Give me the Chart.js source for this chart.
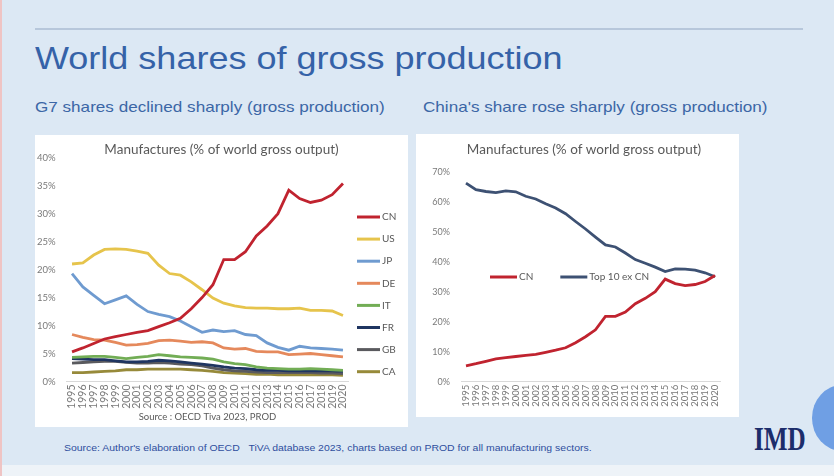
<!DOCTYPE html>
<html>
<head>
<meta charset="utf-8">
<script src="https://cdn.jsdelivr.net/npm/chart.js@4.4.1/dist/chart.umd.min.js"></script>
<style>
  body { margin: 0; width: 834px; height: 476px; overflow: hidden; position: relative;
         background: #dce8f4; font-family: "Liberation Sans", Arial, sans-serif; }
  .abs { position: absolute; }
  #rule { left: 35px; top: 28px; width: 768px; height: 2px; background: #b7c7db; }
  .wide { transform-origin: left top; white-space: nowrap; }
  #title { left: 35px; top: 38px; font-size: 32px; line-height: 40px; color: #3562a8; transform: scaleX(1.125); }
  .sub { top: 98px; font-size: 15px; line-height: 18px; color: #3b66a6; transform: scaleX(1.14); }
  .box { background: #fff; }
  #note { left: 64px; top: 442px; font-size: 9.5px; line-height: 12px; color: #2e4e9e; transform: scaleX(1.1); }
  #logo { left: 754px; top: 421px; font-family: "Liberation Serif", serif; font-weight: bold; font-size: 34px;
          line-height: 36px; color: #1c2d6b; transform: scaleX(0.74); transform-origin: left top; }
  #dot { left: 812px; top: 385px; width: 60px; height: 66px; border-radius: 50%; background: #6f9fe4; }
  #foot { left: 0; top: 465px; width: 834px; height: 11px; background: #eef3f8; }
  #edge { left: 0; top: 0; width: 2px; height: 476px; background: #efc4c4; }
</style>
</head>
<body>
<div class="abs" id="rule"></div>
<div class="abs wide" id="title">World shares of gross production</div>
<div class="abs wide sub" style="left:35px">G7 shares declined sharply (gross production)</div>
<div class="abs wide sub" style="left:423px">China's share rose sharply (gross production)</div>

<div class="abs box" style="left:35px;top:135px;width:373px;height:292px"><canvas id="g7"></canvas></div>
<div class="abs box" style="left:416px;top:134px;width:323px;height:283px"><canvas id="china"></canvas></div>

<div class="abs wide" id="note">Source: Author's elaboration of OECD &nbsp;&nbsp;TiVA database 2023, charts based on PROD for all manufacturing sectors.</div>
<div class="abs" id="logo">IMD</div>
<div class="abs" id="dot"></div>
<div class="abs" id="foot"></div>
<div class="abs" id="edge"></div>

<script>
// years on the x axis
const years = ['1995','1996','1997','1998','1999','2000','2001','2002','2003','2004','2005','2006','2007',
               '2008','2009','2010','2011','2012','2013','2014','2015','2016','2017','2018','2019','2020'];

// % of world gross output, manufactures
const cnShare = [5.3, 6.0, 6.8, 7.6, 8.0, 8.4, 8.8, 9.1, 9.8, 10.5, 11.3, 13.0, 15.0, 17.3, 21.8, 21.8, 23.2, 26.0, 27.8, 30.0, 34.2, 32.7, 32.0, 32.4, 33.4, 35.4];
const usShare = [21.0, 21.2, 22.6, 23.6, 23.7, 23.6, 23.3, 22.9, 20.8, 19.3, 19.0, 17.8, 16.4, 14.9, 14.0, 13.5, 13.2, 13.1, 13.1, 13.0, 13.0, 13.1, 12.7, 12.7, 12.6, 11.8];
const jpShare = [19.3, 16.9, 15.4, 13.9, 14.6, 15.3, 13.8, 12.5, 12.0, 11.6, 10.8, 9.8, 8.8, 9.2, 8.9, 9.1, 8.4, 8.2, 6.9, 6.1, 5.6, 6.3, 6.0, 5.9, 5.8, 5.6];
const deShare = [8.4, 7.9, 7.5, 7.4, 7.0, 6.5, 6.6, 6.8, 7.3, 7.4, 7.2, 7.0, 7.1, 6.9, 6.0, 5.8, 5.9, 5.4, 5.3, 5.3, 4.8, 4.9, 5.0, 4.8, 4.6, 4.4];
const itShare = [4.3, 4.4, 4.5, 4.5, 4.3, 4.1, 4.3, 4.5, 4.8, 4.6, 4.4, 4.3, 4.2, 4.0, 3.5, 3.2, 3.0, 2.6, 2.4, 2.3, 2.2, 2.2, 2.3, 2.2, 2.1, 2.0];
const frShare = [4.1, 4.0, 3.9, 3.9, 3.7, 3.5, 3.5, 3.6, 3.8, 3.7, 3.5, 3.3, 3.1, 2.9, 2.6, 2.4, 2.3, 2.1, 2.0, 2.0, 1.9, 1.9, 1.9, 1.9, 1.9, 1.8];
const gbShare = [3.3, 3.4, 3.5, 3.6, 3.6, 3.4, 3.3, 3.3, 3.4, 3.3, 3.1, 3.0, 2.8, 2.4, 2.1, 1.9, 1.8, 1.7, 1.6, 1.6, 1.6, 1.6, 1.6, 1.5, 1.5, 1.4];
const caShare = [1.6, 1.6, 1.7, 1.8, 1.9, 2.1, 2.1, 2.2, 2.2, 2.2, 2.2, 2.1, 2.0, 1.8, 1.6, 1.5, 1.4, 1.3, 1.3, 1.2, 1.2, 1.2, 1.2, 1.2, 1.2, 1.1];
const top10ExCnShare = [66.2, 64.0, 63.4, 63.0, 63.6, 63.3, 61.8, 60.9, 59.3, 57.9, 56.0, 53.4, 50.9, 48.2, 45.6, 44.9, 42.9, 40.7, 39.5, 38.2, 36.7, 37.6, 37.5, 37.2, 36.3, 35.0];

const chartFont = 'Lato, "Liberation Sans", sans-serif';

// legend with short line samples, drawn where the excel one sits
const lineLegend = {
  id: 'lineLegend',
  afterDraw(chart, args, opts) {
    const ctx = chart.ctx;
    ctx.save();
    ctx.font = opts.fontSize + 'px ' + chartFont;
    ctx.textBaseline = 'middle';
    let x = opts.x, y = opts.y;
    chart.data.datasets.forEach(function (ds) {
      ctx.strokeStyle = ds.borderColor;
      ctx.lineWidth = 3;
      ctx.beginPath();
      ctx.moveTo(x, y);
      ctx.lineTo(x + opts.lineLen, y);
      ctx.stroke();
      ctx.fillStyle = '#595959';
      ctx.fillText(ds.label, x + opts.lineLen + 2, y);
      if (opts.vertical) y += opts.step;
      else x += opts.lineLen + 2 + ctx.measureText(ds.label).width + opts.gap;
    });
    ctx.restore();
  }
};

function serie(label, data, color) {
  return { label: label, data: data, borderColor: color, backgroundColor: color,
           borderWidth: 2.8, pointRadius: 0, tension: 0, fill: false };
}

// yWidth/rightGap keep the plot where the excel plot area is,
// without squeezing the full-width title
function axes(max, step, yWidth, rightGap, xHeight, yFont, xFont) {
  return {
    x: {
      offset: true,
      grid: { display: false, drawTicks: false },
      border: { display: true, color: '#d9d9d9', width: 1 },
      ticks: { autoSkip: false, minRotation: 90, maxRotation: 90, padding: 3,
               color: '#7a7a7a', font: { family: chartFont, size: xFont } },
      afterFit: function (s) { s.height = xHeight; }
    },
    y: {
      min: 0, max: max,
      grid: { display: false, drawTicks: false },
      border: { display: false },
      ticks: { stepSize: step, padding: 11, color: '#7a7a7a', font: { family: chartFont, size: yFont },
               callback: function (v) { return v + '%'; } },
      afterFit: function (s) { s.width = yWidth; }
    },
    gap: {
      type: 'linear', position: 'right', display: true,
      grid: { display: false, drawTicks: false },
      border: { display: false },
      ticks: { display: false },
      afterFit: function (s) { s.width = rightGap; }
    }
  };
}

new Chart(document.getElementById('g7'), {
  type: 'line',
  data: {
    labels: years,
    datasets: [
      serie('CN', cnShare, '#c0232f'),
      serie('US', usShare, '#e6c44c'),
      serie('JP', jpShare, '#6f9bd0'),
      serie('DE', deShare, '#e5895c'),
      serie('IT', itShare, '#72ad55'),
      serie('FR', frShare, '#1f3561'),
      serie('GB', gbShare, '#5a5a5e'),
      serie('CA', caShare, '#978a3a')
    ]
  },
  options: {
    responsive: true, maintainAspectRatio: false, animation: false,
    layout: { padding: 0 },
    scales: axes(40, 5, 31.6, 59.6, 30, 9.5, 10.5),
    plugins: {
      legend: { display: false },
      tooltip: { enabled: false },
      title: { display: true, text: 'Manufactures (% of world gross output)', color: '#595959',
               font: { family: chartFont, size: 13.5, weight: 'normal' }, padding: { top: 6.5, bottom: 0 } },
      subtitle: { display: true, position: 'bottom', fullSize: false, text: 'Source : OECD Tiva 2023, PROD',
                  color: '#595959', font: { family: chartFont, size: 9.5 }, padding: { top: 0, bottom: 4.1 } },
      lineLegend: { x: 322, y: 82, step: 22.1, vertical: true, lineLen: 23, fontSize: 10 }
    }
  },
  plugins: [lineLegend]
});

new Chart(document.getElementById('china'), {
  type: 'line',
  data: {
    labels: years,
    datasets: [
      serie('CN', cnShare, '#c0232f'),
      serie('Top 10 ex CN', top10ExCnShare, '#3d5173')
    ]
  },
  options: {
    responsive: true, maintainAspectRatio: false, animation: false,
    layout: { padding: { left: 13, right: 0, top: 0, bottom: 0 } },
    scales: axes(70, 10, 32, 19, 35.3, 9, 9.5),
    plugins: {
      legend: { display: false },
      tooltip: { enabled: false },
      title: { display: true, text: 'Manufactures (% of world gross output)', color: '#595959',
               font: { family: chartFont, size: 13.5, weight: 'normal' }, padding: { top: 7.9, bottom: 13.6 } },
      lineLegend: { x: 74, y: 143, vertical: false, lineLen: 27, gap: 27, fontSize: 10 }
    }
  },
  plugins: [lineLegend]
});
</script>
</body>
</html>
